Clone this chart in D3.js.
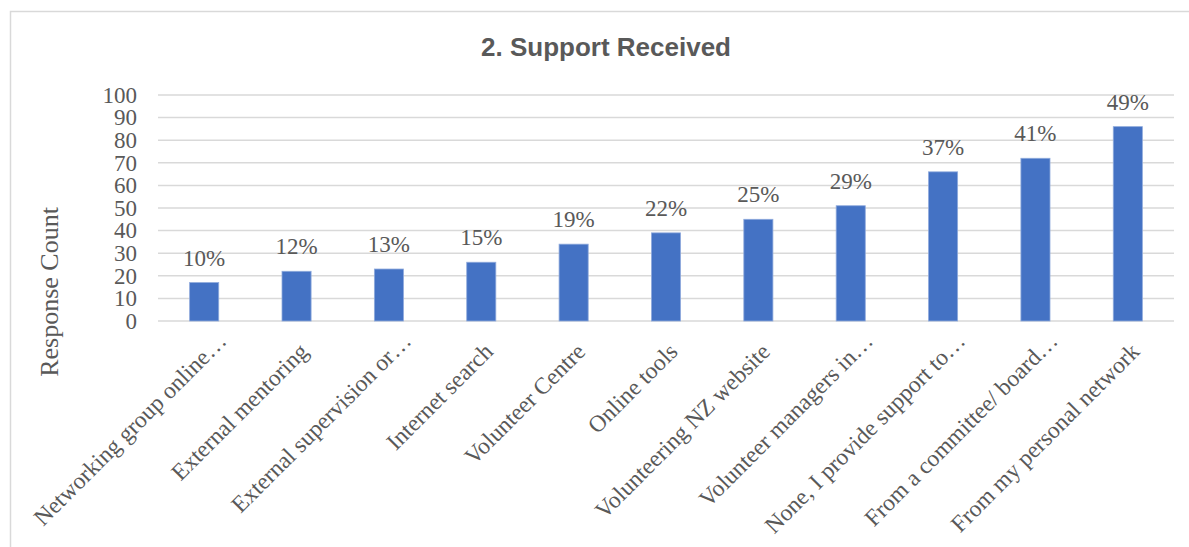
<!DOCTYPE html>
<html>
<head>
<meta charset="utf-8">
<script src="https://cdn.jsdelivr.net/npm/d3@7"></script>
<style>
  body { margin: 0; background: #fff; }
  text { fill: #595959; }
</style>
</head>
<body>
<svg id="chart" width="1189" height="547"></svg>
<script>
const categories = [
    "Networking group online…",
    "External mentoring",
    "External supervision or…",
    "Internet search",
    "Volunteer Centre",
    "Online tools",
    "Volunteering NZ website",
    "Volunteer managers in…",
    "None, I provide support to…",
    "From a committee/ board…",
    "From my personal network"
];
const counts = [17, 22, 23, 26, 34, 39, 45, 51, 66, 72, 86];
const percentLabels = ["10%", "12%", "13%", "15%", "19%", "22%", "25%", "29%", "37%", "41%", "49%"];
const yTicks = [0, 10, 20, 30, 40, 50, 60, 70, 80, 90, 100];

const svg = d3.select("#chart");
const serif = "'Liberation Serif', 'Times New Roman', serif";

// chart border (runs off the right and bottom of the picture)
svg.append("rect")
    .attr("x", 10.5)
    .attr("y", 11.5)
    .attr("width", 1300)
    .attr("height", 700)
    .attr("fill", "none")
    .attr("stroke", "#d9d9d9")
    .attr("stroke-width", 1.5);

const x = d3.scaleBand()
    .domain(categories)
    .range([158, 1174])
    .paddingInner(0.685)
    .paddingOuter(0.3425);

const y = d3.scaleLinear()
    .domain([0, 100])
    .range([321, 95]);

// gridlines
svg.append("g")
    .selectAll("line")
    .data(yTicks)
    .enter()
    .append("line")
    .attr("x1", 158)
    .attr("x2", 1174)
    .attr("y1", d => y(d))
    .attr("y2", d => y(d))
    .attr("stroke", "#d9d9d9")
    .attr("stroke-width", 1.5);

// y axis labels
const yAxis = svg.append("g")
    .attr("transform", "translate(158,0)")
    .call(d3.axisLeft(y).tickValues(yTicks).tickSize(0).tickPadding(21));
yAxis.select(".domain").remove();
yAxis.selectAll("text")
    .attr("font-family", serif)
    .attr("font-size", 23)
    .attr("fill", "#595959");

// bars
svg.append("g")
    .selectAll("rect")
    .data(counts)
    .enter()
    .append("rect")
    .attr("x", (d, i) => x(categories[i]))
    .attr("width", x.bandwidth())
    .attr("y", d => y(d))
    .attr("height", d => y(0) - y(d))
    .attr("fill", "#4472c4")
    .attr("stroke", "#8faadc")
    .attr("stroke-width", 0.8);

// value labels
svg.append("g")
    .selectAll("text")
    .data(counts)
    .enter()
    .append("text")
    .attr("x", (d, i) => x(categories[i]) + x.bandwidth() / 2)
    .attr("y", d => y(d) - 17)
    .attr("text-anchor", "middle")
    .attr("font-family", serif)
    .attr("font-size", 23)
    .text((d, i) => percentLabels[i]);

// category labels, rotated; truncated ones reach a bit further up
svg.append("g")
    .selectAll("text")
    .data(categories)
    .enter()
    .append("text")
    .attr("transform", d =>
        `translate(${x(d) + x.bandwidth() / 2 + 13}, 353) rotate(-45)`)
    .attr("dx", d => (d.endsWith("…") ? 15 : 0))
    .attr("text-anchor", "end")
    .attr("font-family", serif)
    .attr("font-size", 23.5)
    .text(d => d);

// y axis title
svg.append("text")
    .attr("transform", "translate(58, 292) rotate(-90)")
    .attr("text-anchor", "middle")
    .attr("font-family", serif)
    .attr("font-size", 26)
    .text("Response Count");

// chart title
svg.append("text")
    .attr("x", 606)
    .attr("y", 56)
    .attr("text-anchor", "middle")
    .attr("font-family", "'Liberation Sans', Arial, sans-serif")
    .attr("font-weight", "bold")
    .attr("font-size", 26)
    .text("2. Support Received");
</script>
</body>
</html>
